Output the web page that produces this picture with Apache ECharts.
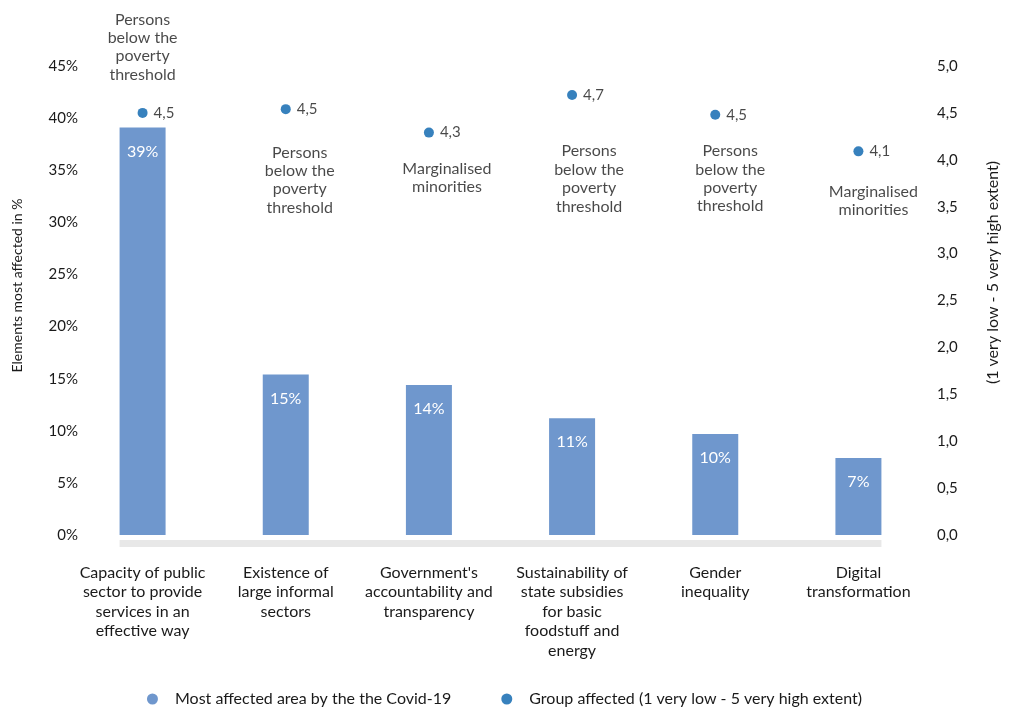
<!DOCTYPE html>
<html>
<head>
<meta charset="utf-8">
<script src="https://cdn.jsdelivr.net/npm/echarts@6/dist/echarts.min.js"></script>
<style>
  html, body { margin: 0; padding: 0; background: #fff; }
  #chart { width: 1009px; height: 707px; }
</style>
</head>
<body>
<div id="chart"></div>
<script>
// ---- Data ----
const categories = [
  'Capacity of public\nsector to provide\nservices in an\neffective way',
  'Existence of\nlarge informal\nsectors',
  "Government's\naccountability and\ntransparency",
  'Sustainability of\nstate subsidies\nfor basic\nfoodstuff and\nenergy',
  'Gender\ninequality',
  'Digital\ntransformation'
];
const affectedShare = [39.1, 15.4, 14.4, 11.2, 9.7, 7.4];      // % (left axis)
const groupExtent = [4.50, 4.54, 4.29, 4.69, 4.48, 4.09];      // 1-5 scale (right axis)
const groupAffected = [
  'Persons\nbelow the\npoverty\nthreshold',
  'Persons\nbelow the\npoverty\nthreshold',
  'Marginalised\nminorities',
  'Persons\nbelow the\npoverty\nthreshold',
  'Persons\nbelow the\npoverty\nthreshold',
  'Marginalised\nminorities'
];
const leftTicks = { min: 0, max: 45, interval: 5 };
const rightTicks = { min: 0, max: 5, interval: 0.5 };
const seriesNames = ['Most affected area by the the Covid-19', 'Group affected (1 very low - 5 very high extent)'];

// ---- Layout for annotations (position, distance, x-offset) ----
const annotLayout = [
  { pos: 'top', dist: 29, dx: 0 },
  { pos: 'bottom', dist: 34, dx: 14 },
  { pos: 'bottom', dist: 27, dx: 18 },
  { pos: 'bottom', dist: 47, dx: 17 },
  { pos: 'bottom', dist: 27, dx: 15 },
  { pos: 'bottom', dist: 31, dx: 15 }
];

const FONT = 'Lato, "Noto Sans", sans-serif';
const TXT = '#1a1a1a';
const BAR_COLOR = '#6f97cd';
const DOT_COLOR = '#0562ad';
const comma = v => v.toFixed(1).replace('.', ',');

const chart = echarts.init(document.getElementById('chart'), null, { renderer: 'canvas' });

const option = {
  animation: false,
  textStyle: { fontFamily: FONT, color: TXT },
  grid: { left: 71, right: 71, top: 66, bottom: 172, containLabel: false },
  legend: {
    data: [
      { name: seriesNames[0], icon: 'circle', itemStyle: { color: BAR_COLOR } },
      { name: seriesNames[1], icon: 'circle', itemStyle: { color: DOT_COLOR } }
    ],
    top: 686,
    left: 'center',
    itemWidth: 11,
    itemHeight: 11,
    itemGap: 50,
    textStyle: { fontFamily: FONT, fontSize: 16, color: TXT, padding: [0, 0, 0, 12] }
  },
  xAxis: {
    type: 'category',
    data: categories,
    axisLine: { show: false },
    axisTick: { show: false },
    axisLabel: {
      interval: 0,
      margin: 28,
      fontFamily: FONT, fontSize: 16, color: TXT, lineHeight: 19.5
    }
  },
  yAxis: [
    {
      type: 'value',
      min: leftTicks.min, max: leftTicks.max, interval: leftTicks.interval,
      name: 'Elements most affected in %',
      nameLocation: 'middle',
      nameGap: 47,
      nameTextStyle: { fontFamily: FONT, fontSize: 14, color: TXT, padding: [0, 0, 0, 30] },
      splitLine: { show: false },
      axisLine: { show: false },
      axisTick: { show: false },
      axisLabel: { formatter: v => v + '%', margin: -7, fontFamily: FONT, fontSize: 15, color: TXT }
    },
    {
      type: 'value',
      min: rightTicks.min, max: rightTicks.max, interval: rightTicks.interval,
      name: '(1 very low - 5 very high extent)',
      nameLocation: 'middle',
      nameGap: 55,
      nameRotate: 90,
      nameTextStyle: { fontFamily: FONT, fontSize: 16, color: TXT, padding: [0, 0, 0, 56] },
      splitLine: { show: false },
      axisLine: { show: false },
      axisTick: { show: false },
      axisLabel: { formatter: v => comma(v), margin: 7, fontFamily: FONT, fontSize: 15, color: TXT }
    }
  ],
  series: [
    {
      name: seriesNames[0],
      type: 'bar',
      yAxisIndex: 0,
      data: affectedShare,
      barWidth: 46,
      itemStyle: { color: BAR_COLOR },
      label: {
        show: true,
        position: 'insideTop',
        distance: 16,
        formatter: p => Math.round(p.value) + '%',
        fontFamily: FONT, fontSize: 16, color: '#ffffff'
      }
    },
    {
      name: seriesNames[1],
      type: 'scatter',
      yAxisIndex: 1,
      data: groupExtent,
      symbol: 'circle',
      symbolSize: 10,
      itemStyle: { color: DOT_COLOR },
      z: 5,
      label: {
        show: true,
        position: 'right',
        distance: 6,
        formatter: p => comma(p.value),
        fontFamily: FONT, fontSize: 15, color: TXT
      }
    },
    {
      name: 'annotations',
      type: 'scatter',
      yAxisIndex: 1,
      silent: true,
      symbolSize: 0,
      data: groupExtent.map((v, i) => ({
        value: v,
        label: {
          position: annotLayout[i].pos,
          distance: annotLayout[i].dist,
          offset: [annotLayout[i].dx, 0]
        }
      })),
      label: {
        show: true,
        formatter: p => groupAffected[p.dataIndex],
        align: 'center',
        fontFamily: FONT, fontSize: 16, lineHeight: 18.4, color: TXT
      }
    }
  ]
};

chart.setOption(option);

// Gray baseline band spanning from the first bar's left edge to the last bar's right edge
function drawBand() {
  const half = 23;
  const x0 = chart.convertToPixel({ xAxisIndex: 0 }, 0) - half;
  const x1 = chart.convertToPixel({ xAxisIndex: 0 }, categories.length - 1) + half;
  const y0 = chart.convertToPixel({ yAxisIndex: 0 }, 0);
  chart.setOption({
    graphic: [{
      type: 'rect',
      shape: { x: x0, y: y0 + 5, width: x1 - x0, height: 7 },
      style: { fill: '#e8e8e8' },
      silent: true,
      z: 0
    }]
  });
}
drawBand();
</script>
</body>
</html>
